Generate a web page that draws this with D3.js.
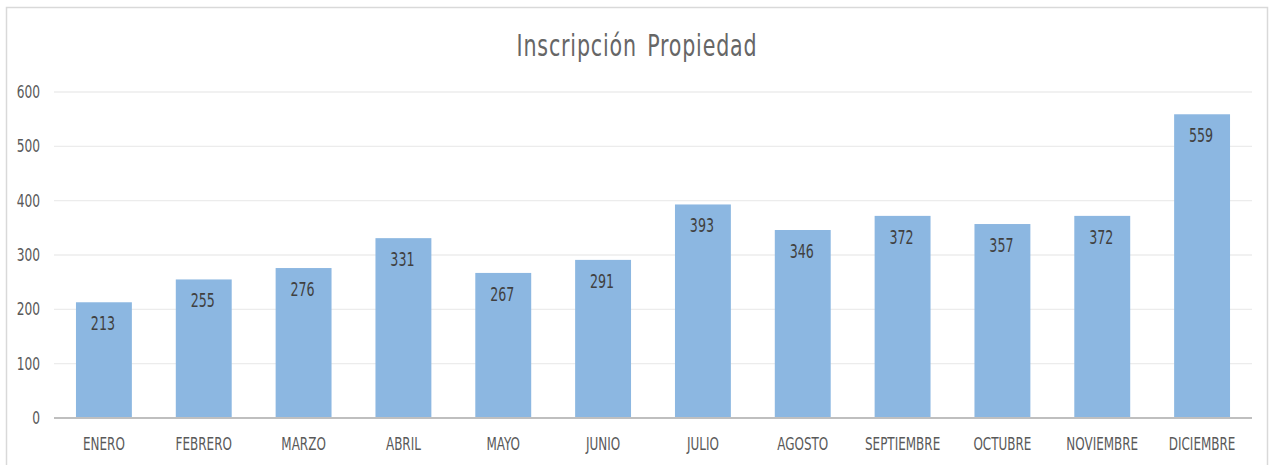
<!DOCTYPE html>
<html>
<head>
<meta charset="utf-8">
<script src="https://cdn.jsdelivr.net/npm/d3@7"></script>
<style>
  body { margin: 0; background: #fff; }
  svg text { font-family: "DejaVu Sans Condensed", "DejaVu Sans", sans-serif; }
</style>
</head>
<body>
<svg></svg>
<script>
const months = ["ENERO", "FEBRERO", "MARZO", "ABRIL", "MAYO", "JUNIO", "JULIO",
  "AGOSTO", "SEPTIEMBRE", "OCTUBRE", "NOVIEMBRE", "DICIEMBRE"];
const values = [213, 255, 276, 331, 267, 291, 393, 346, 372, 357, 372, 559];
const yTicks = [0, 100, 200, 300, 400, 500, 600];
const title = "Inscripción Propiedad";

const svgWidth = 1270, svgHeight = 465;
const margin = { top: 92, right: 18, bottom: 47, left: 54 };
const width = svgWidth - margin.left - margin.right;
const height = svgHeight - margin.top - margin.bottom;

const svg = d3.select("svg")
    .attr("width", svgWidth)
    .attr("height", svgHeight);

// chart frame
svg.append("rect")
    .attr("x", 6.5).attr("y", 7.5)
    .attr("width", 1261).attr("height", 470)
    .attr("fill", "none")
    .attr("stroke", "#d9d9d9")
    .attr("stroke-width", 1.5);

// the original text is narrow, so squeeze it sideways
function squeeze(x, y, sx) {
  return "translate(" + x + "," + y + ") scale(" + sx + ",1)";
}

svg.append("text")
    .attr("transform", squeeze(637, 56, 0.74))
    .attr("text-anchor", "middle")
    .attr("fill", "#666666")
    .style("font-size", "31px")
    .style("letter-spacing", "1.1px")
    .style("word-spacing", "4px")
    .text(title);

const xScale = d3.scaleBand().domain(months).range([0, width]).paddingInner(0.44).paddingOuter(0.22);
const yScale = d3.scaleLinear().domain([0, 600]).range([height, 0]);

const g = svg.append("g")
    .attr("transform", "translate(" + margin.left + "," + margin.top + ")");

// gridlines
g.append("g")
    .selectAll("line")
    .data(yTicks.slice(1))
    .enter()
    .append("line")
    .attr("x1", 0).attr("x2", width)
    .attr("y1", d => yScale(d)).attr("y2", d => yScale(d))
    .attr("stroke", "#ececec")
    .attr("stroke-width", 1.3);

// y labels
g.append("g")
    .selectAll("text")
    .data(yTicks)
    .enter()
    .append("text")
    .attr("transform", d => squeeze(-14, yScale(d), 0.8))
    .attr("dy", "0.36em")
    .attr("text-anchor", "end")
    .attr("fill", "#595959")
    .style("font-size", "17px")
    .text(d => d);

g.selectAll("rect.bar")
    .data(values)
    .enter()
    .append("rect")
    .attr("class", "bar")
    .attr("fill", "#8cb7e1")
    .attr("x", (d, i) => xScale(months[i]))
    .attr("y", d => yScale(d))
    .attr("width", xScale.bandwidth())
    .attr("height", d => height - yScale(d));

// baseline
g.append("line")
    .attr("x1", 0).attr("x2", width)
    .attr("y1", height).attr("y2", height)
    .attr("stroke", "#bfbfbf")
    .attr("stroke-width", 2.2);

// data labels
g.selectAll("text.val")
    .data(values)
    .enter()
    .append("text")
    .attr("class", "val")
    .attr("transform", (d, i) => squeeze(xScale(months[i]) + xScale.bandwidth() / 2 - 1, yScale(d) + 28, 0.74))
    .attr("text-anchor", "middle")
    .attr("fill", "#404040")
    .style("font-size", "19px")
    .text(d => d);

// x labels
g.selectAll("text.cat")
    .data(months)
    .enter()
    .append("text")
    .attr("class", "cat")
    .attr("transform", d => squeeze(xScale(d) + xScale.bandwidth() / 2, height + 32, 0.74))
    .attr("text-anchor", "middle")
    .attr("fill", "#595959")
    .style("font-size", "18px")
    .text(d => d);
</script>
</body>
</html>
